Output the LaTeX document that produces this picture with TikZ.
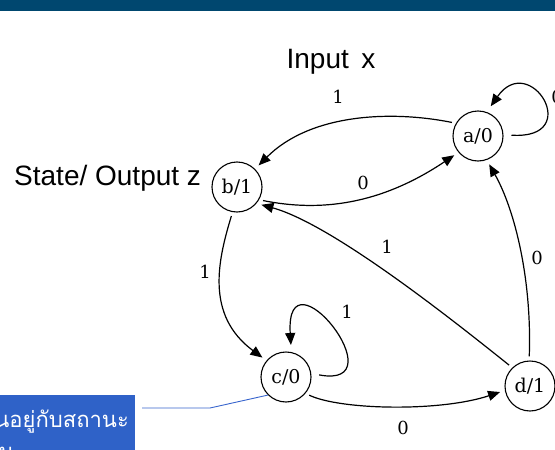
\documentclass[tikz,border=0pt]{standalone}
\usepackage{fontspec}
\setmainfont{DejaVu Serif}
\newfontfamily\labelsans{Liberation Sans}
\newfontfamily\thaifont[Script=Thai]{Loma}
\usetikzlibrary{arrows.meta}
\definecolor{topbar}{RGB}{0,71,111}
\definecolor{calloutblue}{RGB}{47,98,200}
\definecolor{leaderblue}{RGB}{55,100,205}

\begin{document}
\begin{tikzpicture}[x=1pt,y=-1pt,
  state/.style={circle,draw,line width=1.1pt,minimum size=50pt,inner sep=0pt,
    font=\fontsize{19}{19}\selectfont},
  trans/.style={draw,line width=1.2pt,-{Triangle[length=12pt,width=10pt]},
    shorten >=5pt,shorten <=4pt},
  selfloop/.style={trans,shorten >=7pt,shorten <=8pt},
  edgelabel/.style={font=\fontsize{18}{18}\selectfont,inner sep=0pt},
  caption/.style={font=\labelsans\fontsize{28}{28}\selectfont,inner sep=0pt},
  callouttext/.style={anchor=base east,text=white,inner sep=0pt,
    font=\thaifont\fontsize{22}{30}\selectfont}]

\useasboundingbox (0,0) rectangle (555,450);

% header band
\fill[topbar] (0,0) rectangle (555,11);

% captions
\node[caption,anchor=base] (inputcap) at (331,68) {Input \,x};
\node[caption,anchor=base west] (statecap) at (14,185) {State/ Output z};

% states
\node[state] (a) at (478,136) {a/0};
\node[state] (b) at (237,187) {b/1};
\node[state] (c) at (286,377) {c/0};
\node[state] (d) at (530,386) {d/1};

% transitions
\draw[trans] (a.150) .. controls (390,110) and (310,114) .. (b.45);
\draw[trans] (b.-30) .. controls (320,212) and (380,205) .. (a.220);
\draw[selfloop] (a.3) .. controls (585,140) and (530,50) .. (a.70);
\draw[trans] (d.92) .. controls (532,280) and (515,210) .. (a.-70);
\draw[trans] (d.134) .. controls (465,330) and (335,225) .. (b.-40);
\draw[trans] (b.-100) .. controls (218,260) and (205,315) .. (c.140);
\draw[selfloop] (c.8) .. controls (400,390) and (285,245) .. (c.78);
\draw[trans] (c.-40) .. controls (340,410) and (440,412) .. (d.190);

% transition labels
\node[edgelabel] (lab) at (338,97) {1};
\node[edgelabel] (lba) at (363,183) {0};
\node[edgelabel] (laa) at (557,97) {0};
\node[edgelabel] (lda) at (537,258) {0};
\node[edgelabel] (ldb) at (387,247) {1};
\node[edgelabel] (lbc) at (205,272) {1};
\node[edgelabel] (lcc) at (347,312) {1};
\node[edgelabel] (lcd) at (403,428) {0};

% callout box
\fill[calloutblue] (-20,395) rectangle (135,470);
\node[callouttext] (calltext) at (129,427) {ขึ้นอยู่กับสถานะ};
\node[callouttext] (calltext2) at (14,459) {ปัจจุบัน};
\coordinate (leadstart) at (142,408);
\coordinate (leadbend) at (210,408);
\draw[leaderblue,line width=0.9pt] (leadstart) -- (leadbend) -- (c.-135);
\end{tikzpicture}
\end{document}
